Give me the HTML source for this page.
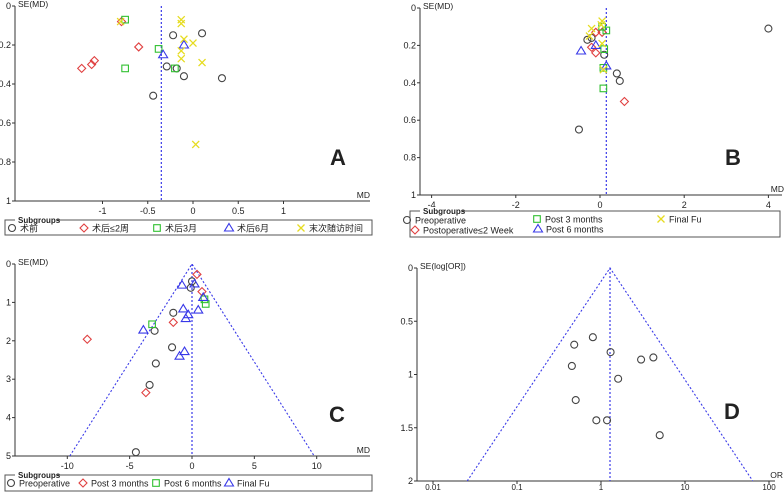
<!DOCTYPE html>
<html><head><meta charset="utf-8"><style>
html,body{margin:0;padding:0;background:#fff;}
svg{display:block;font-family:"Liberation Sans","Noto Sans CJK SC",sans-serif;}
</style></head><body>
<svg id="root" width="784" height="492" viewBox="0 0 784 492"></svg>
<script>
// Panel A data (MD, SE)
const aCircleMD=[-0.22,0.1,-0.29,-0.18,-0.1,0.32,-0.44];
const aCircleSE=[0.15,0.14,0.31,0.32,0.36,0.37,0.46];
const aDiamondMD=[-0.79,-0.6,-1.09,-1.12,-1.23];
const aDiamondSE=[0.08,0.21,0.28,0.30,0.32];
const aSquareMD=[-0.75,-0.38,-0.75,-0.2];
const aSquareSE=[0.07,0.22,0.32,0.32];
const aTriMD=[-0.33,-0.1];
const aTriSE=[0.25,0.2];
const aCrossMD=[-0.13,-0.13,-0.1,0,-0.13,-0.13,0.1,0.03,-0.8];
const aCrossSE=[0.07,0.09,0.17,0.19,0.23,0.27,0.29,0.71,0.08];
const aXTicks=[-1,-0.5,0,0.5,1];
const aXTickLabels=["-1","-0.5","0","0.5","1"];
const aYTicks=[0,0.2,0.4,0.6,0.8,1];
const aYTickLabels=["0","0.2","0.4","0.6","0.8","1"];
const aPooled=-0.35;
// Panel B data
const bCircleMD=[-0.3,-0.2,0.1,0.4,0.47,-0.5,4];
const bCircleSE=[0.17,0.16,0.25,0.35,0.39,0.65,0.11];
const bDiamondMD=[-0.1,0.05,-0.2,-0.1,0.58];
const bDiamondSE=[0.13,0.13,0.21,0.24,0.5];
const bSquareMD=[0.15,0.1,0.08,0.08,0.05];
const bSquareSE=[0.12,0.22,0.32,0.43,0.1];
const bTriMD=[-0.45,-0.1,0.15];
const bTriSE=[0.23,0.2,0.31];
const bCrossMD=[0.05,-0.2,0.05,0.08,-0.25,0.03];
const bCrossSE=[0.07,0.11,0.19,0.33,0.15,0.09];
const bXTicks=[-4,-2,0,2,4];
const bXTickLabels=["-4","-2","0","2","4"];
const bYTicks=[0,0.2,0.4,0.6,0.8,1];
const bYTickLabels=["0","0.2","0.4","0.6","0.8","1"];
const bPooled=0.15;
// Panel C data
const cCircleMD=[0,-0.1,-1.5,-3,-1.6,-2.9,-3.4,-4.5];
const cCircleSE=[0.45,0.62,1.27,1.74,2.17,2.59,3.15,4.9];
const cDiamondMD=[0.4,0.8,-1.5,-8.4,-3.7];
const cDiamondSE=[0.27,0.72,1.52,1.96,3.35];
const cSquareMD=[1,1.1,-3.2];
const cSquareSE=[0.92,1.04,1.57];
const cTriMD=[-0.8,0.2,0.9,-0.7,-0.3,-0.5,0.5,-3.9,-0.6,-1];
const cTriSE=[0.55,0.52,0.87,1.17,1.32,1.42,1.2,1.72,2.28,2.4];
const cXTicks=[-10,-5,0,5,10];
const cXTickLabels=["-10","-5","0","5","10"];
const cYTicks=[0,1,2,3,4,5];
const cYTickLabels=["0","1","2","3","4","5"];
const cPooled=0;
// Panel D data (OR, SE)
const dOR=[0.8,0.48,1.3,0.45,3,4.2,1.6,0.5,0.88,1.18,5];
const dSE=[0.65,0.72,0.79,0.92,0.86,0.84,1.04,1.24,1.43,1.43,1.57];
const dXTicks=[0.01,0.1,1,10,100];
const dXTickLabels=["0.01","0.1","1","10","100"];
const dYTicks=[0,0.5,1,1.5,2];
const dYTickLabels=["0","0.5","1","1.5","2"];
const dPooled=1.28;

const NS="http://www.w3.org/2000/svg";
const root=document.getElementById('root');
function el(tag,attrs,parent){const e=document.createElementNS(NS,tag);for(const k in attrs)e.setAttribute(k,attrs[k]);(parent||root).appendChild(e);return e;}
function txt(x,y,s,size,anchor,parent,weight){const t=el('text',{x:x,y:y,'font-size':size,'text-anchor':anchor||'start',fill:'#222','font-weight':weight||'normal'},parent);t.textContent=s;return t;}
const COL={circle:'#444',diamond:'#e04040',square:'#30c030',tri:'#3838e8',cross:'#e6dc20'};
function marker(g,type,x,y){
  let m;
  if(type==='circle')m=el('circle',{cx:x,cy:y,r:3.5,fill:'none',stroke:COL.circle,'stroke-width':1.1},g);
  else if(type==='diamond')m=el('polygon',{points:`${x},${y-4} ${x+4},${y} ${x},${y+4} ${x-4},${y}`,fill:'none',stroke:COL.diamond,'stroke-width':1.1},g);
  else if(type==='square')m=el('rect',{x:x-3.3,y:y-3.3,width:6.6,height:6.6,fill:'none',stroke:COL.square,'stroke-width':1.1},g);
  else if(type==='tri')m=el('polygon',{points:`${x},${y-4.5} ${x+4.5},${y+3} ${x-4.5},${y+3}`,fill:'none',stroke:COL.tri,'stroke-width':1.1},g);
  else {m=el('path',{d:`M${x-3.5},${y-3.5}L${x+3.5},${y+3.5}M${x+3.5},${y-3.5}L${x-3.5},${y+3.5}`,stroke:COL.cross,'stroke-width':1.3,fill:'none'},g);}
  return m;
}
function panel(cfg){
  const g=el('g',{});
  
  
  const sx=cfg.sx, sy=cfg.sy;
  const ax=el('path',{d:`M${cfg.ax0},${sy(cfg.yTicks[0])}L${cfg.ax0},${sy(cfg.yTicks[cfg.yTicks.length-1])}L${cfg.axEnd},${sy(cfg.yTicks[cfg.yTicks.length-1])}`,stroke:'#333',fill:'none','stroke-width':1},g);
  
  
  const yb=sy(cfg.yTicks[cfg.yTicks.length-1]);
  const ldy=cfg.xLabelDy||13, lfs=cfg.xLabelSize||9;
  cfg.xTicks.forEach((v,i)=>{const x=sx(v);el('line',{x1:x,y1:yb,x2:x,y2:yb+3,stroke:'#333'},g);const t=txt(x,yb+ldy,cfg.xLabels[i],lfs,'middle',g);});
  cfg.yTicks.forEach((v,i)=>{const y=sy(v);el('line',{x1:cfg.ax0-3,y1:y,x2:cfg.ax0,y2:y,stroke:'#333'},g);const t=txt(cfg.ax0-4,y+3,cfg.yLabels[i],9,'end',g);});
  const yt=txt(cfg.ax0+3,sy(cfg.yTicks[0])+1,cfg.yTitle,8.5,'start',g);
  
  const xt=txt(cfg.axEnd+cfg.xTitleDx,yb-3,cfg.xTitle,8.5,'end',g);
  
  const pl=el('line',{x1:sx(cfg.pooled),y1:sy(cfg.yTicks[0]),x2:sx(cfg.pooled),y2:yb,stroke:'#3a3ae8','stroke-width':1.2,'stroke-dasharray':'2,2'},g);
  
  if(cfg.funnel){
    const f=el('path',{d:`M${sx(cfg.funnel[0])},${yb}L${sx(cfg.pooled)},${sy(0)}L${sx(cfg.funnel[1])},${yb}`,stroke:'#3a3ae8','stroke-width':1.1,'stroke-dasharray':'2,2',fill:'none'},g);
    
  }
  cfg.series.forEach(s=>{
    s.x.forEach((v,i)=>{const m=marker(g,s.type,sx(v),sy(s.y[i]));
      
      });
  });
  const L=txt(cfg.letter[0],cfg.letter[1],cfg.letter[2],22,'middle',g,'bold');
  
  return g;
}
function legend(x,y,w,h,items){
  const g=el('g',{});
  
  
  el('rect',{x:x,y:y,width:w,height:h,fill:'none',stroke:'#555','stroke-width':1},g);
  el('rect',{x:x+10,y:y-4,width:42,height:8,fill:'#fff'},g);
  txt(x+13,y+3,'Subgroups',8,'start',g,'bold');
  items.forEach(it=>{const m=marker(g,it.type,it.x,it.y);
    
    
    const t=txt(it.x+8,it.y+3.5,it.label,9,'start',g);
    
    });
}
panel({name:'panel-a',ax0:15,axEnd:370,sx:v=>193+v*90.5,sy:v=>6+v*195,
  xTicks:aXTicks,xLabels:aXTickLabels,yTicks:aYTicks,yLabels:aYTickLabels,yTitle:'SE(MD)',xTitle:'MD',xTitleDx:0,pooled:aPooled,
  series:[{type:'circle',name:'preoperative',x:aCircleMD,y:aCircleSE},{type:'diamond',name:'post-2-weeks',x:aDiamondMD,y:aDiamondSE},{type:'square',name:'post-3-months',x:aSquareMD,y:aSquareSE},{type:'tri',name:'post-6-months',x:aTriMD,y:aTriSE},{type:'cross',name:'final-fu',x:aCrossMD,y:aCrossSE}],
  letter:[338,165,'A']});
legend(5,220,367,15,[{type:'circle',x:12,y:228,label:'术前'},{type:'diamond',x:84,y:228,label:'术后≤2周'},{type:'square',x:157,y:228,label:'术后3月'},{type:'tri',x:229,y:228,label:'术后6月'},{type:'cross',x:301,y:228,label:'末次随访时间'}]);
panel({name:'panel-b',ax0:420,axEnd:782,sx:v=>600+v*42.1,sy:v=>8+v*187,
  xTicks:bXTicks,xLabels:bXTickLabels,yTicks:bYTicks,yLabels:bYTickLabels,yTitle:'SE(MD)',xTitle:'MD',xTitleDx:2,pooled:bPooled,
  series:[{type:'circle',name:'preoperative',x:bCircleMD,y:bCircleSE},{type:'diamond',name:'post-2-weeks',x:bDiamondMD,y:bDiamondSE},{type:'square',name:'post-3-months',x:bSquareMD,y:bSquareSE},{type:'tri',name:'post-6-months',x:bTriMD,y:bTriSE},{type:'cross',name:'final-fu',x:bCrossMD,y:bCrossSE}],
  letter:[733,165,'B']});
legend(410,211,370,26,[{type:'circle',x:407,y:220,label:'Preoperative'},{type:'square',x:537,y:219,label:'Post 3 months'},{type:'cross',x:661,y:219,label:'Final Fu'},{type:'diamond',x:415,y:230,label:'Postoperative≤2 Week'},{type:'tri',x:538,y:229,label:'Post 6 months'}]);
panel({name:'panel-c',ax0:15,axEnd:370,sx:v=>192+v*12.47,sy:v=>264+v*38.4,
  xTicks:cXTicks,xLabels:cXTickLabels,yTicks:cYTicks,yLabels:cYTickLabels,yTitle:'SE(MD)',xTitle:'MD',xTitleDx:0,pooled:cPooled,funnel:[-9.8,9.8],
  series:[{type:'circle',name:'preoperative',x:cCircleMD,y:cCircleSE},{type:'diamond',name:'post-3-months',x:cDiamondMD,y:cDiamondSE},{type:'square',name:'post-6-months',x:cSquareMD,y:cSquareSE},{type:'tri',name:'final-fu',x:cTriMD,y:cTriSE}],
  letter:[337,422,'C']});
legend(5,475,367,16,[{type:'circle',x:11,y:483,label:'Preoperative'},{type:'diamond',x:83,y:483,label:'Post 3 months'},{type:'square',x:156,y:483,label:'Post 6 months'},{type:'tri',x:229,y:483,label:'Final Fu'}]);
const lg=v=>Math.log10(v);
const dp=lg(dPooled);
panel({name:'panel-d',ax0:417,axEnd:775,sx:v=>601+v*84,sy:v=>268+v*106.5,xLabelDy:9,xLabelSize:8,
  xTicks:dXTicks.map(lg),xLabels:dXTickLabels,yTicks:dYTicks,yLabels:dYTickLabels,yTitle:'SE(log[OR])',xTitle:'OR',xTitleDx:8,pooled:dp,funnel:[dp-1.70,dp+1.70],
  series:[{type:'circle',name:'study',x:dOR.map(lg),y:dSE}],
  letter:[732,419,'D']});
</script>
</body></html>
